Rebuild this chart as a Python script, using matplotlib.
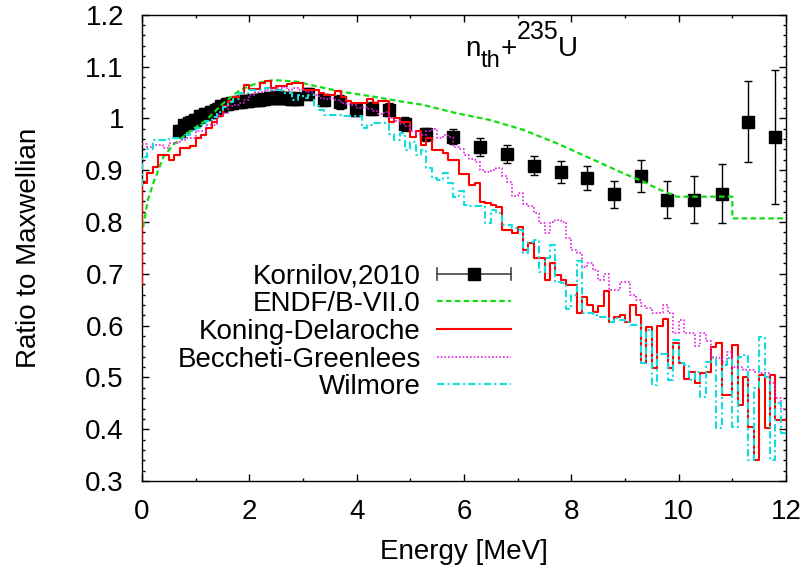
import numpy as np
import matplotlib
matplotlib.use("Agg")
import matplotlib.pyplot as plt
from matplotlib.lines import Line2D
from matplotlib.legend_handler import HandlerBase
from matplotlib.ticker import MultipleLocator

plt.rcParams["font.family"] = ["Liberation Sans", "DejaVu Sans"]

FS = 20

# ------------------------------------------------------------
# Kornilov (2010) measured PFNS, ratio to Maxwellian
# ------------------------------------------------------------
korn_e = [0.68, 0.78, 0.88, 0.98, 1.08, 1.18, 1.28, 1.38, 1.48, 1.58,
          1.68, 1.78, 1.88, 1.98, 2.08, 2.18, 2.28, 2.38, 2.48, 2.58,
          2.68, 2.78, 2.88, 3.09, 3.40, 3.68, 3.99, 4.29, 4.60, 4.90,
          5.29, 5.79, 6.30, 6.80, 7.30, 7.80, 8.30, 8.80, 9.30, 9.79,
          10.29, 10.80, 11.30, 11.80]
korn_ratio = [0.976, 0.987, 0.992, 0.996, 1.004, 1.008, 1.012, 1.017, 1.024, 1.028,
              1.030, 1.032, 1.033, 1.034, 1.035, 1.036, 1.037, 1.039, 1.040, 1.040,
              1.039, 1.038, 1.038, 1.047, 1.036, 1.032, 1.017, 1.019, 1.017, 0.989,
              0.969, 0.965, 0.945, 0.931, 0.909, 0.896, 0.885, 0.854, 0.888, 0.843,
              0.843, 0.855, 0.994, 0.964]
korn_err = [0.012, 0.012, 0.012, 0.012, 0.012, 0.012, 0.012, 0.012, 0.012, 0.012,
            0.012, 0.012, 0.012, 0.012, 0.012, 0.012, 0.012, 0.012, 0.012, 0.012,
            0.012, 0.012, 0.012, 0.012, 0.012, 0.013, 0.013, 0.013, 0.013, 0.014,
            0.013, 0.015, 0.017, 0.018, 0.019, 0.021, 0.024, 0.026, 0.031, 0.036,
            0.045, 0.057, 0.079, 0.130]

# ------------------------------------------------------------
# ENDF/B-VII.0 evaluation
# ------------------------------------------------------------
endf_e = [0.02, 0.11, 0.21, 0.40, 0.58, 0.89, 1.20, 1.51, 1.83, 2.14,
          2.45, 2.88, 3.25, 3.69, 4.31, 4.81, 5.24, 5.86, 6.48, 7.10,
          7.73, 8.35, 8.97, 9.34, 9.59, 9.96, 11.0, 11.0, 12.0]
endf_ratio = [0.790, 0.843, 0.875, 0.926, 0.949, 0.975, 0.997, 1.029, 1.055, 1.068,
              1.074, 1.071, 1.062, 1.052, 1.042, 1.033, 1.026, 1.010, 0.997, 0.978,
              0.952, 0.923, 0.894, 0.878, 0.865, 0.849, 0.849, 0.807, 0.807]

# ------------------------------------------------------------
# Calculated spectra (0.1 MeV bins, 0-12 MeV) for three optical potentials
# ------------------------------------------------------------
bin_edges = np.round(np.arange(0.0, 12.05, 0.1), 2)

kd_ratio = [0.876, 0.894, 0.907, 0.930, 0.930, 0.920, 0.930, 0.943, 0.943, 0.946,
            0.962, 0.968, 0.981, 0.994, 1.004, 1.023, 1.033, 1.042, 1.049, 1.065,
            1.056, 1.056, 1.068, 1.073, 1.058, 1.063, 1.063, 1.067, 1.068, 1.068,
            1.055, 1.055, 1.054, 1.049, 1.046, 1.046, 1.052, 1.042, 1.033, 1.029,
            1.029, 1.029, 1.037, 1.029, 1.033, 1.033, 0.994, 1.000, 0.994, 0.993,
            0.965, 0.975, 0.949, 0.962, 0.939, 0.939, 0.933, 0.920, 0.920, 0.893,
            0.893, 0.872, 0.876, 0.838, 0.836, 0.833, 0.829, 0.785, 0.785, 0.778,
            0.790, 0.746, 0.759, 0.730, 0.730, 0.688, 0.720, 0.698, 0.688, 0.679,
            0.679, 0.624, 0.656, 0.640, 0.627, 0.637, 0.666, 0.608, 0.617, 0.621,
            0.608, 0.640, 0.621, 0.527, 0.598, 0.518, 0.600, 0.612, 0.518, 0.566,
            0.527, 0.498, 0.511, 0.489, 0.508, 0.511, 0.559, 0.566, 0.466, 0.466,
            0.563, 0.447, 0.501, 0.405, 0.341, 0.505, 0.402, 0.505, 0.418, 0.418]

bg_ratio = [0.950, 0.945, 0.949, 0.949, 0.943, 0.952, 0.952, 0.959, 0.962, 0.962,
            0.975, 0.975, 0.988, 0.988, 1.007, 1.010, 1.023, 1.025, 1.030, 1.035,
            1.045, 1.050, 1.050, 1.055, 1.052, 1.058, 1.060, 1.055, 1.058, 1.055,
            1.052, 1.050, 1.045, 1.040, 1.038, 1.040, 1.035, 1.030, 1.028, 1.025,
            1.020, 1.022, 1.018, 1.015, 1.008, 1.012, 1.000, 0.995, 0.990, 0.985,
            0.975, 0.970, 0.968, 0.975, 0.980, 0.962, 0.968, 0.965, 0.945, 0.940,
            0.930, 0.922, 0.915, 0.900, 0.897, 0.900, 0.904, 0.888, 0.878, 0.850,
            0.856, 0.835, 0.830, 0.817, 0.798, 0.778, 0.800, 0.803, 0.800, 0.770,
            0.746, 0.740, 0.714, 0.720, 0.707, 0.688, 0.700, 0.669, 0.669, 0.685,
            0.685, 0.660, 0.650, 0.637, 0.635, 0.624, 0.624, 0.640, 0.624, 0.585,
            0.610, 0.585, 0.585, 0.560, 0.585, 0.570, 0.540, 0.537, 0.530, 0.550,
            0.520, 0.520, 0.514, 0.514, 0.510, 0.508, 0.508, 0.490, 0.460, 0.440]

wil_ratio = [0.925, 0.940, 0.958, 0.958, 0.958, 0.962, 0.962, 0.962, 0.968, 0.975,
             0.981, 0.988, 0.995, 1.002, 1.012, 1.022, 1.032, 1.038, 1.049, 1.049,
             1.054, 1.054, 1.054, 1.058, 1.055, 1.055, 1.049, 1.049, 1.036, 1.045,
             1.039, 1.046, 1.023, 1.016, 1.007, 1.007, 1.007, 1.004, 1.005, 1.005,
             1.005, 0.981, 0.988, 0.991, 0.991, 0.991, 0.970, 0.959, 0.972, 0.939,
             0.955, 0.930, 0.939, 0.905, 0.885, 0.881, 0.895, 0.875, 0.849, 0.859,
             0.833, 0.830, 0.830, 0.830, 0.798, 0.823, 0.817, 0.794, 0.794, 0.788,
             0.785, 0.740, 0.762, 0.765, 0.704, 0.730, 0.756, 0.685, 0.682, 0.633,
             0.660, 0.724, 0.624, 0.624, 0.620, 0.617, 0.617, 0.608, 0.614, 0.611,
             0.608, 0.601, 0.601, 0.527, 0.592, 0.485, 0.546, 0.546, 0.495, 0.572,
             0.527, 0.524, 0.495, 0.510, 0.463, 0.530, 0.537, 0.402, 0.524, 0.537,
             0.405, 0.540, 0.543, 0.341, 0.480, 0.579, 0.500, 0.341, 0.450, 0.392]

# value at the E = 0 edge of each calculated spectrum
kd_start = 0.68
bg_start = 0.95
wil_start = 0.87

# reaction label anchor (data coords, baseline of the "n")
title_e, title_v = 6.02, 1.121


def step_xy(edges, values, start):
    """Histogram outline as x/y for steps-post, with the E=0 edge value."""
    x = np.concatenate([[edges[0]], edges])
    y = np.concatenate([[start], values, [values[-1]]])
    return x, y


class ErrorbarKey(HandlerBase):
    """Legend key: horizontal bar with end caps and a square in the middle."""

    def create_artists(self, legend, orig_handle, xdescent, ydescent,
                       width, height, fontsize, trans):
        y = height / 2 - ydescent
        x0, x1 = -xdescent, width - xdescent
        cap = 0.3 * height
        arts = [
            Line2D([x0, x1], [y, y], color="#444444", lw=1.2),
            Line2D([x0, x0], [y - cap, y + cap], color="#444444", lw=1.2),
            Line2D([x1, x1], [y - cap, y + cap], color="#444444", lw=1.2),
            Line2D([(x0 + x1) / 2], [y], marker="s", ms=8.5, color="black",
                   linestyle="none"),
        ]
        for a in arts:
            a.set_transform(trans)
        return arts


fig = plt.figure(figsize=(8.07, 5.68), dpi=100)
ax = fig.add_axes([0.176, 0.153, 0.798, 0.821])

korn = ax.errorbar(korn_e, korn_ratio, yerr=korn_err, fmt="s", color="black",
                   ms=8.5, ecolor="black", elinewidth=1.0, capsize=3,
                   capthick=1.0, zorder=2, label="Kornilov,2010")

endf_line, = ax.plot(endf_e, endf_ratio, color="#11dd11", lw=1.6,
                     dashes=(2.5, 1.5), zorder=3, label="ENDF/B-VII.0")

x, y = step_xy(bin_edges, kd_ratio, kd_start)
kd_line, = ax.plot(x, y, drawstyle="steps-post", color="#ff0000", lw=1.5,
                   zorder=4, label="Koning-Delaroche")

x, y = step_xy(bin_edges, bg_ratio, bg_start)
bg_line, = ax.plot(x, y, drawstyle="steps-post", color="#e020e0", lw=1.2,
                   linestyle=(0, (1, 1.2)), zorder=5, label="Beccheti-Greenlees")

x, y = step_xy(bin_edges, wil_ratio, wil_start)
wil_line, = ax.plot(x, y, drawstyle="steps-post", color="#11dddd", lw=1.5,
                    linestyle=(0, (3.5, 1.5, 1, 1.5)), zorder=6, label="Wilmore")

ax.set_xlim(0, 12)
ax.set_ylim(0.3, 1.2)
ax.xaxis.set_major_locator(MultipleLocator(2))
ax.xaxis.set_minor_locator(MultipleLocator(1))
ax.yaxis.set_major_locator(MultipleLocator(0.1))
ax.yaxis.set_minor_locator(MultipleLocator(0.02))
ax.set_yticklabels([f"{v:g}" for v in ax.get_yticks()])
ax.tick_params(which="both", direction="in", top=True, right=True,
               labelsize=FS, width=1.0)
ax.tick_params(which="major", length=5)
ax.tick_params(which="minor", length=2.5)
ax.tick_params(axis="x", pad=13)
ax.tick_params(axis="y", pad=13)
for s in ax.spines.values():
    s.set_linewidth(1.0)

ax.set_xlabel("Energy [MeV]", fontsize=FS, labelpad=10)
ax.set_ylabel("Ratio to Maxwellian", fontsize=FS, labelpad=31)

# n_th + 235U, built piece by piece so sub/superscripts sit like enhanced text
t_n = ax.text(title_e, title_v, "n", fontsize=FS, va="baseline")
pieces = [("th", 17, -8), ("+", FS, 0), ("235", 18, 12), ("U", FS, 0)]
prev = t_n
for txt, size, dy in pieces:
    prev = ax.annotate(txt, xy=(1, title_v), xycoords=(prev, "data"),
                       xytext=(0, dy), textcoords="offset points",
                       fontsize=size, va="baseline", ha="left")

ax.legend(handles=[korn, endf_line, kd_line, bg_line, wil_line],
          handler_map={type(korn): ErrorbarKey()},
          loc="center right", bbox_to_anchor=(0.573, 0.32),
          frameon=False, markerfirst=False, fontsize=FS,
          handlelength=2.65, handletextpad=0.6, labelspacing=0.06,
          borderpad=0, borderaxespad=0)

fig.savefig("out.png", dpi=100)
